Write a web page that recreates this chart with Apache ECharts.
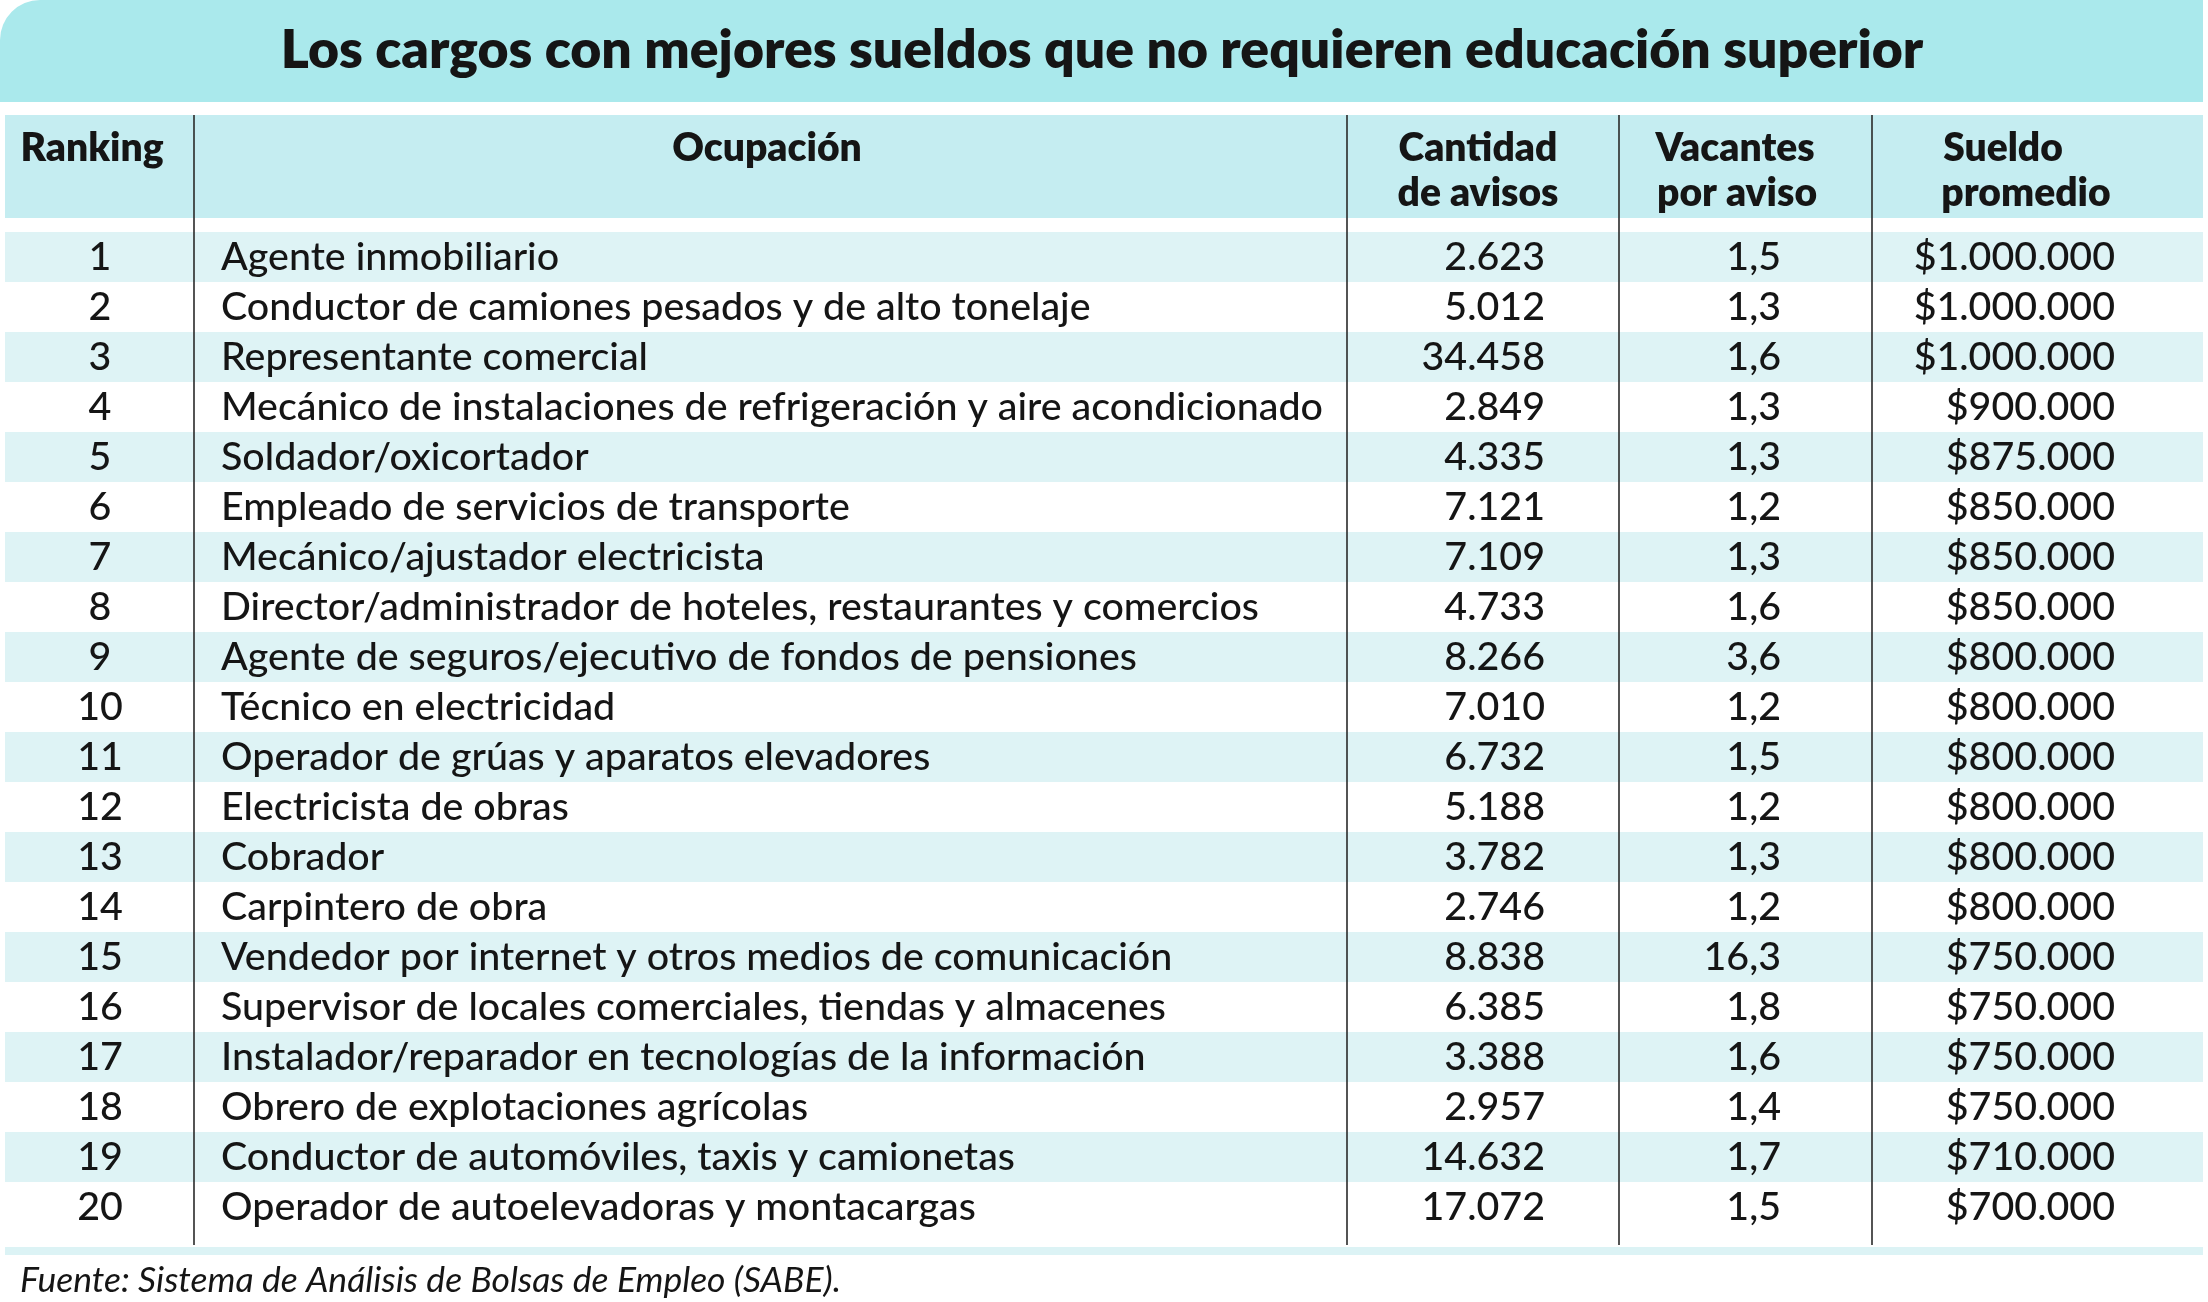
<!DOCTYPE html>
<html>
<head>
<meta charset="utf-8">
<script src="https://cdn.jsdelivr.net/npm/echarts@6/dist/echarts.min.js"></script>
<style>
  html, body { margin: 0; padding: 0; background: #fff; }
  #chart { width: 2208px; height: 1302px; }
</style>
</head>
<body>
<div id="chart"></div>
<script>
const title = 'Los cargos con mejores sueldos que no requieren educación superior'
const source = 'Fuente: Sistema de Análisis de Bolsas de Empleo (SABE).'
const headers = [['Ranking'], ['Ocupación'], ['Cantidad', 'de avisos'], ['Vacantes', 'por aviso'], ['Sueldo', 'promedio']]

const ranking = [1, 2, 3, 4, 5, 6, 7, 8, 9, 10, 11, 12, 13, 14, 15, 16, 17, 18, 19, 20]
const ocupaciones = [
  'Agente inmobiliario',
  'Conductor de camiones pesados y de alto tonelaje',
  'Representante comercial',
  'Mecánico de instalaciones de refrigeración y aire acondicionado',
  'Soldador/oxicortador',
  'Empleado de servicios de transporte',
  'Mecánico/ajustador electricista',
  'Director/administrador de hoteles, restaurantes y comercios',
  'Agente de seguros/ejecutivo de fondos de pensiones',
  'Técnico en electricidad',
  'Operador de grúas y aparatos elevadores',
  'Electricista de obras',
  'Cobrador',
  'Carpintero de obra',
  'Vendedor por internet y otros medios de comunicación',
  'Supervisor de locales comerciales, tiendas y almacenes',
  'Instalador/reparador en tecnologías de la información',
  'Obrero de explotaciones agrícolas',
  'Conductor de automóviles, taxis y camionetas',
  'Operador de autoelevadoras y montacargas'
]
const avisos = [2623, 5012, 34458, 2849, 4335, 7121, 7109, 4733, 8266, 7010, 6732, 5188, 3782, 2746, 8838, 6385, 3388, 2957, 14632, 17072]
const vacantes = [1.5, 1.3, 1.6, 1.3, 1.3, 1.2, 1.3, 1.6, 3.6, 1.2, 1.5, 1.2, 1.3, 1.2, 16.3, 1.8, 1.6, 1.4, 1.7, 1.5]
const sueldos = [1000000, 1000000, 1000000, 900000, 875000, 850000, 850000, 850000, 800000, 800000, 800000, 800000, 800000, 800000, 750000, 750000, 750000, 750000, 710000, 700000]

// layout (pixels)
const W = 2208
const left = 5, right = 2203
const bodyTop = 232, rowH = 50
const colLines = [194, 1347, 1619, 1872]
const headerX = [[92], [767], [1478, 1478], [1735, 1737], [2003, 2026]]
const ink = '#151515'
const fam = 'Lato, "Open Sans", sans-serif'

const thousands = n => String(n).replace(/\B(?=(\d{3})+(?!\d))/g, '.')
const decimal = v => v.toFixed(1).replace('.', ',')

const chart = echarts.init(document.getElementById('chart'))

const graphics = [
  { type: 'rect', shape: { x: 0, y: 0, width: right, height: 102, r: [40, 0, 0, 0] }, style: { fill: '#aae9ec' } },
  { type: 'text', x: 1102, y: 51, style: { text: title, font: '800 53.5px ' + fam, fill: ink, textAlign: 'center', textVerticalAlign: 'middle' } },
  { type: 'rect', shape: { x: left, y: 115, width: right - left, height: 103 }, style: { fill: '#c5edf1' } },
  { type: 'rect', shape: { x: left, y: 1247, width: right - left, height: 8 }, style: { fill: '#dcf3f5' } },
  { type: 'text', x: 20, y: 1281, style: { text: source, font: 'italic 35.5px ' + fam, fill: ink, textAlign: 'left', textVerticalAlign: 'middle' } }
]
headers.forEach((lines, c) => {
  lines.forEach((t, k) => {
    graphics.push({ type: 'text', x: headerX[c][k], y: 148 + k * 45, style: { text: t, font: '800 39px ' + fam, fill: ink, textAlign: 'center', textVerticalAlign: 'middle' } })
  })
})
colLines.forEach(x => {
  graphics.push({ type: 'line', z: 10, shape: { x1: x, y1: 115, x2: x, y2: 1245 }, style: { stroke: '#2a2a2a', lineWidth: 1.6 } })
})

const cell = (x, y, text, align) => ({
  type: 'text', x, y,
  style: { text, font: '500 39.4px ' + fam, fill: ink, textAlign: align, textVerticalAlign: 'middle' }
})

chart.setOption({
  animation: false,
  grid: { left: 0, right: 0, top: bodyTop, height: rowH * ranking.length },
  xAxis: { type: 'value', min: 0, max: W, show: false },
  yAxis: { type: 'category', data: ranking, inverse: true, show: false },
  graphic: graphics,
  series: [{
    type: 'custom',
    silent: true,
    data: ranking.map((r, i) => [0, i]),
    renderItem: (params, api) => {
      const i = api.value(1)
      const yc = api.coord([0, i])[1]
      const h = api.size([0, 1])[1]
      const x = v => api.coord([v, i])[0]
      const children = []
      if (i % 2 === 0) {
        children.push({ type: 'rect', shape: { x: x(left), y: yc - h / 2, width: x(right) - x(left), height: h }, style: { fill: '#def3f5' } })
      }
      children.push(cell(x(100), yc, String(ranking[i]), 'center'))
      children.push(cell(x(221), yc, ocupaciones[i], 'left'))
      children.push(cell(x(1545), yc, thousands(avisos[i]), 'right'))
      children.push(cell(x(1781), yc, decimal(vacantes[i]), 'right'))
      children.push(cell(x(2115), yc, '$' + thousands(sueldos[i]), 'right'))
      return { type: 'group', children }
    }
  }]
})
</script>
</body>
</html>
